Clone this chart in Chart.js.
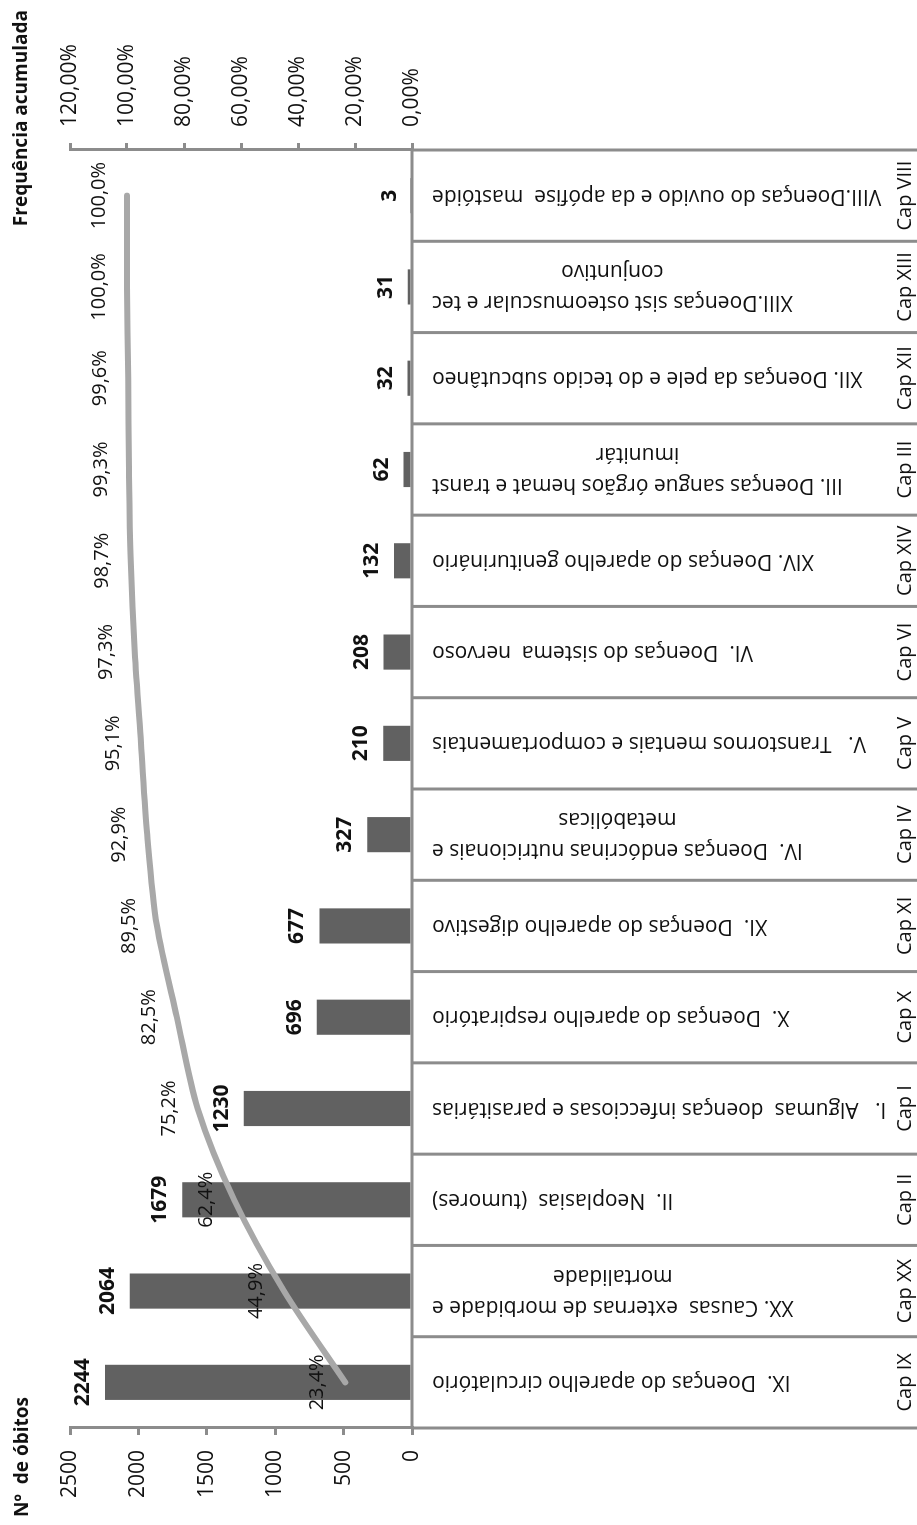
<!DOCTYPE html>
<html lang="pt">
<head>
<meta charset="utf-8">
<title>Óbitos por capítulo CID-10 – Pareto</title>
<script src="https://cdn.jsdelivr.net/npm/chart.js@4.4.1/dist/chart.umd.min.js"></script>
<style>
  html, body { margin: 0; padding: 0; background: #fff; overflow: hidden; }
  body { width: 917px; height: 1525px; position: relative; }
  /* the chart is laid out in landscape and turned a quarter turn to fit the portrait page */
  #sheet {
    position: absolute; left: 0; top: 0;
    width: 1525px; height: 917px;
    transform-origin: 0 0;
    transform: translate(0, 1525px) rotate(-90deg);
    background: #fff;
  }
  canvas { display: block; }
</style>
</head>
<body>
<div id="sheet"><canvas id="pareto" width="1525" height="917"></canvas></div>
<script>
// ICD-10 chapters, ordered by number of deaths
const chapters = ['Cap IX', 'Cap XX', 'Cap II', 'Cap I', 'Cap X', 'Cap XI', 'Cap IV',
                  'Cap V', 'Cap VI', 'Cap XIV', 'Cap III', 'Cap XII', 'Cap XIII', 'Cap VIII'];

const descriptions = [
  ['IX.  Doenças do aparelho circulatório'],
  ['XX. Causas  externas de morbidade e', 'mortalidade'],
  ['II.  Neoplasias  (tumores)'],
  ['I.   Algumas  doenças infecciosas e parasitárias'],
  ['X.  Doenças do aparelho respiratório'],
  ['XI.  Doenças do aparelho digestivo'],
  ['IV.  Doenças endócrinas nutricionais e', 'metabólicas'],
  ['V.   Transtornos mentais e comportamentais'],
  ['VI.  Doenças do sistema  nervoso'],
  ['XIV. Doenças do aparelho geniturinário'],
  ['III. Doenças sangue órgãos hemat e transt', 'imunitár'],
  ['XII. Doenças da pele e do tecido subcutâneo'],
  ['XIII.Doenças sist osteomuscular e tec', 'conjuntivo'],
  ['VIII.Doenças do ouvido e da apófise  mastóide']
];

const deaths = [2244, 2064, 1679, 1230, 696, 677, 327, 210, 208, 132, 62, 32, 31, 3];

// cumulative frequency (%)
const cumulative = [23.4, 44.9, 62.4, 75.2, 82.5, 89.5, 92.9, 95.1, 97.3, 98.7, 99.3, 99.6, 100.0, 100.0];

const countTicks = [0, 500, 1000, 1500, 2000, 2500];
const percentTicks = [0, 20, 40, 60, 80, 100, 120];

const countTitle = 'Nº  de óbitos';
const percentTitle = 'Frequência acumulada';

const FONT = "'Open Sans', 'Noto Sans', sans-serif";
const INK = '#111111';
const RULE = '#8c8c8c';

const toComma = (v, d) => v.toFixed(d).replace('.', ',');

const tableAndLabels = {
  id: 'tableAndLabels',
  afterDatasetsDraw(chart) {
    const { ctx, chartArea: area, scales: { x } } = chart;
    const half = (x.getPixelForValue(1) - x.getPixelForValue(0)) / 2;
    const n = chapters.length;

    ctx.save();

    // category table under the plot
    ctx.strokeStyle = RULE;
    ctx.lineWidth = 3;
    ctx.beginPath();
    ctx.moveTo(area.left, area.bottom);
    ctx.lineTo(area.right, area.bottom);
    for (let i = 0; i <= n; i++) {
      const bx = i < n ? x.getPixelForValue(i) - half : x.getPixelForValue(n - 1) + half;
      ctx.moveTo(bx, area.bottom);
      ctx.lineTo(bx, chart.height);
    }
    ctx.stroke();

    ctx.fillStyle = INK;

    // chapter descriptions, turned upright and hanging from the axis
    ctx.font = `21px ${FONT}`;
    ctx.textAlign = 'center';
    ctx.textBaseline = 'middle';
    const descTop = area.bottom + 20;
    descriptions.forEach((lines, i) => {
      const w = Math.max(...lines.map(l => ctx.measureText(l).width));
      ctx.save();
      ctx.translate(x.getPixelForValue(i), descTop + w / 2);
      ctx.rotate(-Math.PI / 2);
      lines.forEach((l, k) => ctx.fillText(l, 0, (k - (lines.length - 1) / 2) * 31));
      ctx.restore();
    });

    // chapter codes
    ctx.font = `20px ${FONT}`;
    chapters.forEach((c, i) => ctx.fillText(c, x.getPixelForValue(i), area.bottom + 493));

    // bar values
    ctx.font = `bold 21px ${FONT}`;
    chart.getDatasetMeta(1).data.forEach((el, i) => {
      ctx.fillText(String(deaths[i]), el.x, el.y - 22);
    });

    // cumulative percentages
    ctx.font = `20px ${FONT}`;
    chart.getDatasetMeta(0).data.forEach((el, i) => {
      ctx.fillText(toComma(cumulative[i], 1) + '%', el.x, el.y - 28);
    });

    // axis titles
    ctx.font = `bold 19px ${FONT}`;
    ctx.textAlign = 'left';
    ctx.fillText(countTitle, 8, 23);
    ctx.textAlign = 'right';
    ctx.fillText(percentTitle, chart.width - 10, 22);

    ctx.restore();
  }
};

new Chart(document.getElementById('pareto'), {
  type: 'bar',
  data: {
    labels: chapters,
    datasets: [
      {
        type: 'line',
        label: percentTitle,
        data: cumulative,
        yAxisID: 'y1',
        borderColor: '#a8a8a8',
        borderWidth: 6,
        borderCapStyle: 'round',
        borderJoinStyle: 'round',
        pointRadius: 0,
        tension: 0.3,
        fill: false,
        order: 0,
        clip: false
      },
      {
        type: 'bar',
        label: countTitle,
        data: deaths,
        yAxisID: 'y',
        backgroundColor: '#616161',
        categoryPercentage: 1,
        barPercentage: 0.385,
        order: 1
      }
    ]
  },
  options: {
    responsive: false,
    animation: false,
    devicePixelRatio: 1,
    layout: { padding: { top: 70, bottom: 505, left: 0, right: 0 } },
    plugins: { legend: { display: false }, tooltip: { enabled: false } },
    scales: {
      x: { type: 'category', display: false, offset: true },
      y: {
        position: 'left',
        min: 0, max: 2500,
        afterBuildTicks: s => { s.ticks = countTicks.map(v => ({ value: v })); },
        afterFit: s => { s.width = 97; },
        ticks: {
          color: INK, padding: 15,
          font: { family: FONT, size: 21 },
          callback: v => String(v)
        },
        grid: { drawOnChartArea: false, drawTicks: true, tickLength: 7, color: RULE, lineWidth: 3 },
        border: { display: true, color: RULE, width: 3 }
      },
      y1: {
        position: 'right',
        min: 0, max: 120,
        afterBuildTicks: s => { s.ticks = percentTicks.map(v => ({ value: v })); },
        afterFit: s => { s.width = 150; },
        ticks: {
          color: INK, padding: 16,
          font: { family: FONT, size: 21 },
          callback: v => toComma(v, 2) + '%'
        },
        grid: { drawOnChartArea: false, drawTicks: true, tickLength: 7, color: RULE, lineWidth: 3 },
        border: { display: true, color: RULE, width: 3 }
      }
    }
  },
  plugins: [tableAndLabels]
});
</script>
</body>
</html>
